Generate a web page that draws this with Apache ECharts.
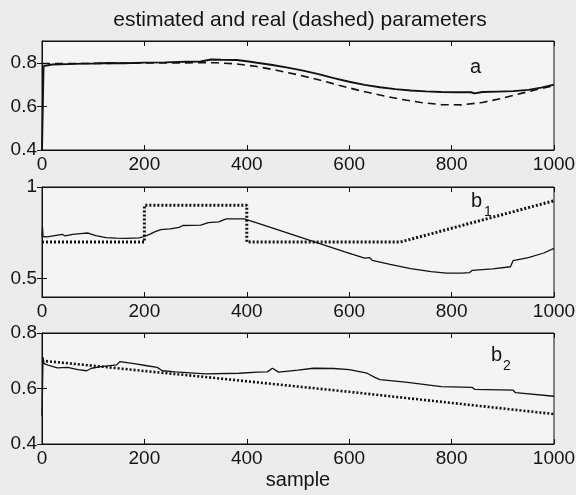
<!DOCTYPE html>
<html>
<head>
<meta charset="utf-8">
<script src="https://cdn.jsdelivr.net/npm/echarts@6/dist/echarts.min.js"></script>
<style>
html,body{margin:0;padding:0;background:#ececea;}
#c{width:576px;height:495px;}
</style>
</head>
<body>
<div id="c"></div>
<script>
// ---- data ----
const titleText = 'estimated and real (dashed) parameters';
const xLabel = 'sample';
const xTicks = [0, 200, 400, 600, 800, 1000];
const aTicks = [0.4, 0.6, 0.8];
const b1Ticks = [0.5, 1];
const b2Ticks = [0.4, 0.6, 0.8];

// panel a
const aEstX = [0, 3, 20, 50, 80, 100, 130, 160, 200, 240, 280, 310, 330, 350, 380, 400, 420, 450, 480, 510, 540, 570, 600, 630, 660, 690, 720, 750, 780, 810, 838, 845, 860, 890, 920, 950, 975, 1000];
const aEstY = [0.40, 0.785, 0.792, 0.794, 0.796, 0.797, 0.799, 0.798, 0.801, 0.802, 0.805, 0.806, 0.815, 0.814, 0.813, 0.807, 0.80, 0.79, 0.778, 0.764, 0.748, 0.73, 0.713, 0.699, 0.688, 0.679, 0.673, 0.669, 0.666, 0.665, 0.665, 0.66, 0.666, 0.668, 0.67, 0.676, 0.686, 0.70];
const aRealX = [0, 100, 200, 300, 340, 380, 420, 460, 500, 540, 580, 620, 660, 700, 740, 780, 820, 860, 900, 940, 980, 1000];
const aRealY = [0.797, 0.797, 0.799, 0.80, 0.80, 0.795, 0.783, 0.765, 0.745, 0.722, 0.697, 0.673, 0.652, 0.633, 0.618, 0.608, 0.607, 0.618, 0.638, 0.662, 0.685, 0.695];

// panel b1
const b1EstX = [0, 1, 2, 10, 25, 40, 45, 60, 75, 90, 105, 125, 145, 165, 190, 200, 210, 220, 232, 250, 268, 275, 310, 325, 345, 360, 395, 430, 470, 510, 550, 590, 630, 640, 645, 680, 720, 760, 790, 820, 835, 840, 880, 915, 920, 950, 980, 1000];
const b1EstY = [0.73, 0.78, 0.73, 0.728, 0.735, 0.742, 0.733, 0.742, 0.746, 0.749, 0.735, 0.724, 0.721, 0.72, 0.722, 0.73, 0.742, 0.755, 0.768, 0.772, 0.78, 0.79, 0.792, 0.806, 0.81, 0.826, 0.826, 0.795, 0.758, 0.721, 0.684, 0.647, 0.612, 0.615, 0.60, 0.578, 0.555, 0.538, 0.53, 0.53, 0.533, 0.545, 0.553, 0.565, 0.598, 0.615, 0.64, 0.665];
const b1RealX = [0, 200, 200, 400, 400, 700, 800, 900, 1000];
const b1RealY = [0.70, 0.70, 0.90, 0.90, 0.70, 0.70, 0.775, 0.85, 0.925];

// panel b2
const b2EstX = [0, 2, 4, 15, 30, 50, 70, 87, 97, 115, 146, 152, 180, 205, 225, 235, 260, 320, 385, 420, 440, 450, 462, 500, 530, 570, 600, 635, 650, 660, 710, 780, 840, 845, 920, 925, 1000];
const b2EstY = [0.50, 0.713, 0.69, 0.682, 0.674, 0.676, 0.668, 0.664, 0.673, 0.679, 0.685, 0.697, 0.69, 0.682, 0.676, 0.664, 0.66, 0.653, 0.655, 0.659, 0.66, 0.673, 0.659, 0.666, 0.673, 0.672, 0.668, 0.655, 0.64, 0.632, 0.623, 0.607, 0.604, 0.597, 0.594, 0.585, 0.572];
const b2RealX = [0, 100, 200, 300, 400, 500, 600, 700, 800, 900, 1000];
const b2RealY = [0.70, 0.682, 0.663, 0.645, 0.626, 0.607, 0.588, 0.568, 0.548, 0.528, 0.508];

// ---- chart ----
const zip = (xs, ys) => xs.map((x, i) => [x, ys[i]]);
const FONT = 'Liberation Sans, Arial, Helvetica, sans-serif';
const INK = '#111111';
const TXT = '#141414';

const panels = [
  {top: 41, height: 109, min: 0.4, max: 0.9, ticks: aTicks},
  {top: 187, height: 110, min: 0.4, max: 1.0, ticks: b1Ticks},
  {top: 333, height: 111, min: 0.4, max: 0.8, ticks: b2Ticks}
];

const grid = [], xAxis = [], yAxis = [];
panels.forEach((p, i) => {
  grid.push({left: 42, right: 22, top: p.top, height: p.height, show: true,
    backgroundColor: '#f4f4f2', borderColor: INK, borderWidth: 1, outerBoundsMode: 'none'});
  const axLine = {show: true, lineStyle: {color: INK, width: 1}};
  xAxis.push({type: 'value', gridIndex: i, position: 'bottom', min: 0, max: 1000,
    axisLine: axLine, splitLine: {show: false},
    axisTick: {inside: true, length: 5, customValues: xTicks, lineStyle: {color: INK}},
    axisLabel: {customValues: xTicks, formatter: v => String(v), color: TXT, fontSize: 19, fontFamily: FONT, margin: 5},
    name: i === 2 ? xLabel : '', nameLocation: 'middle', nameGap: 26,
    nameTextStyle: {color: TXT, fontSize: 20, fontFamily: FONT}});
  xAxis.push({type: 'value', gridIndex: i, position: 'top', min: 0, max: 1000,
    axisLine: axLine, splitLine: {show: false},
    axisTick: {inside: true, length: 5, customValues: xTicks, lineStyle: {color: INK}},
    axisLabel: {show: false}});
  yAxis.push({type: 'value', gridIndex: i, position: 'left', min: p.min, max: p.max,
    axisLine: axLine, splitLine: {show: false},
    axisTick: {inside: true, length: 5, customValues: p.ticks, lineStyle: {color: INK}},
    axisLabel: {customValues: p.ticks, formatter: v => String(Math.round(v * 10) / 10), color: TXT, fontSize: 19, fontFamily: FONT, margin: 5}});
  yAxis.push({type: 'value', gridIndex: i, position: 'right', min: p.min, max: p.max,
    axisLine: axLine, splitLine: {show: false},
    axisTick: {inside: true, length: 5, customValues: p.ticks, lineStyle: {color: INK}},
    axisLabel: {show: false}});
});

function line(data, panel, style) {
  return {type: 'line', xAxisIndex: panel * 2, yAxisIndex: panel * 2, data: data,
    showSymbol: false, symbol: 'none', silent: true, animation: false,
    lineStyle: Object.assign({color: INK}, style)};
}

const series = [
  line(zip(aRealX, aRealY), 0, {width: 1.6, type: [8, 5]}),
  line(zip(aEstX, aEstY), 0, {width: 1.9}),
  line(zip(b1RealX, b1RealY), 1, {width: 3, type: [2, 2]}),
  line(zip(b1EstX, b1EstY), 1, {width: 1.3}),
  line(zip(b2RealX, b2RealY), 2, {width: 2.6, type: [2, 2]}),
  line(zip(b2EstX, b2EstY), 2, {width: 1.3})
];

const txt = (x, y, s, size) => ({type: 'text', x: x, y: y,
  style: {text: s, fill: TXT, font: size + 'px ' + FONT, textAlign: 'left', textVerticalAlign: 'top'}});

const chart = echarts.init(document.getElementById('c'), null, {renderer: 'canvas'});
chart.setOption({
  backgroundColor: '#ececea',
  animation: false,
  title: {text: titleText, left: 295, top: 5, textAlign: 'center',
    textStyle: {color: TXT, fontSize: 21, fontWeight: 'normal', fontFamily: FONT}},
  grid: grid, xAxis: xAxis, yAxis: yAxis, series: series,
  graphic: [
    txt(470, 57, 'a', 20),
    txt(471, 191, 'b', 20),
    txt(484, 205, '1', 14),
    txt(491, 345, 'b', 20),
    txt(503, 359, '2', 14)
  ]
});
</script>
</body>
</html>
